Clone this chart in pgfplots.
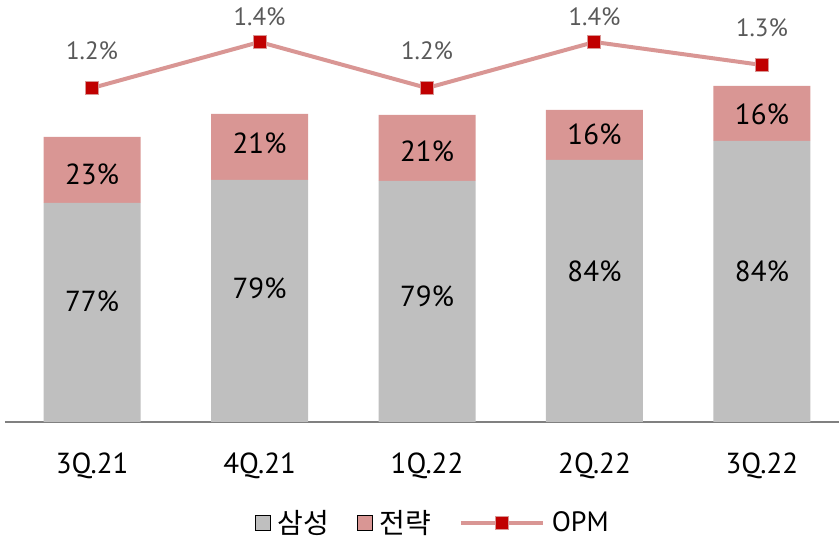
\documentclass[border=0pt]{standalone}
\usepackage{fontspec}
\setmainfont{PT Sans}
\newfontfamily\kr{Noto Sans CJK KR}
\usepackage{pgfplots}
\usepackage{pgfplotstable}
\pgfplotsset{compat=1.18}
\definecolor{barGray}{HTML}{BFBFBF}
\definecolor{barPink}{HTML}{D99694}
\definecolor{mk}{HTML}{C00000}
\definecolor{lblGray}{HTML}{595959}
\definecolor{axGray}{HTML}{808080}

\pgfplotstableread{
x g p gm pm gl pl
0 219 66 121 248 77 23
1 242 66 134 279 79 21
2 241 66 126 271 79 21
3 262 50 151 288 84 16
4 281 55 151 308 84 16
}\bars
\pgfplotstableread{
x opm ly lab
0 1.2 1.361 1.2
1 1.4 1.509 1.4
2 1.2 1.361 1.2
3 1.4 1.509 1.4
4 1.3 1.461 1.3
}\opmdata

\pgfplotsset{common/.style={scale only axis, width=834pt, height=392pt,
  xmin=-0.52, xmax=4.46, at={(5pt,119pt)}, anchor=south west, clip=false},
  sqlegend/.style={legend image code/.code={\fill[#1] (0pt,-7.5pt) rectangle (15pt,7.5pt);}},
  linelegend/.style={legend image code/.code={\draw[mark repeat=2, mark phase=2, #1] plot coordinates {(0pt,0pt) (41pt,0pt) (82pt,0pt)};}}}

\begin{document}
\begin{tikzpicture}
\useasboundingbox (0,0) rectangle (839pt,541pt);
% bars
\begin{axis}[common, ymin=0, ymax=392, ybar stacked, bar width=97pt,
  axis y line=none, axis x line*=bottom,
  x axis line style={-, axGray, line width=1.5pt},
  xtick={0,1,2,3,4}, xticklabels={3Q.21,4Q.21,1Q.22,2Q.22,3Q.22},
  major tick length=0pt,
  xticklabel style={anchor=center, yshift=-44pt, font=\fontsize{29}{30}\selectfont, text=black}]
\addplot[fill=barGray, draw=none] table[x=x,y=g]{\bars};
\addplot[fill=barPink, draw=none] table[x=x,y=p]{\bars};
\end{axis}
% bar labels
\begin{axis}[common, ymin=0, ymax=392, hide axis]
\addplot[draw=none, mark=none, nodes near coords={\pgfplotspointmeta\%}, point meta=explicit symbolic,
  every node near coord/.append style={anchor=center, font=\fontsize{29}{30}\selectfont, text=black}]
  table[x=x,y=gm,meta=gl]{\bars};
\addplot[draw=none, mark=none, nodes near coords={\pgfplotspointmeta\%}, point meta=explicit symbolic,
  every node near coord/.append style={anchor=center, font=\fontsize{29}{30}\selectfont, text=black}]
  table[x=x,y=pm,meta=pl]{\bars};
\end{axis}
% OPM line
\begin{axis}[common, ymin=-0.2522, ymax=1.4522, hide axis,
  legend style={at={(0.513,-0.257)}, anchor=center, draw=none, fill=none,
    legend columns=3, font=\fontsize{28}{30}\selectfont,
    /tikz/every even column/.append style={column sep=26pt},
    /tikz/every odd column/.append style={column sep=5pt},
    nodes={inner sep=2pt}},
  legend cell align=left]
\addlegendimage{fill=barGray, sqlegend}
\addlegendentry{\kr 삼성}
\addlegendimage{fill=barPink, sqlegend}
\addlegendentry{\kr 전략}
\addplot[barPink, line width=4pt, mark=square*, mark size=6.5pt,
  mark options={fill=mk, draw=barPink, line width=1pt}, linelegend]
  table[x=x,y=opm]{\opmdata};
\addlegendentry{OPM}
\addplot[forget plot, draw=none, mark=none, nodes near coords={\pgfplotspointmeta\%}, point meta=explicit symbolic,
  every node near coord/.append style={anchor=center, font=\fontsize{25}{26}\selectfont, text=lblGray}]
  table[x=x,y=ly,meta=lab]{\opmdata};
\end{axis}
\end{tikzpicture}
\end{document}
